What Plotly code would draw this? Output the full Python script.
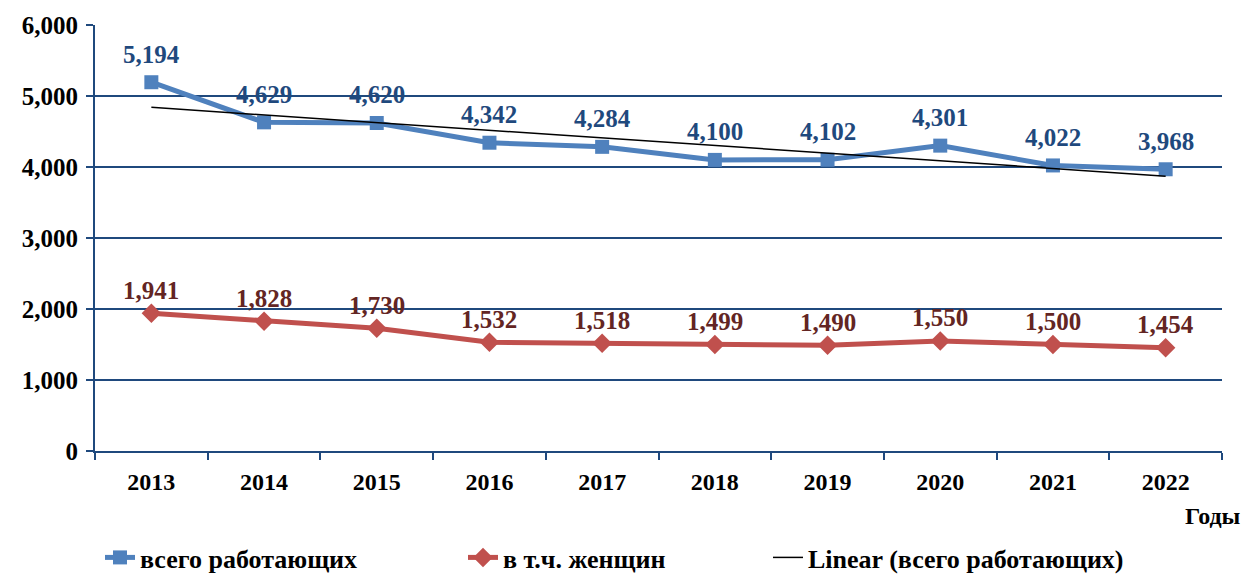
import numpy as np
import plotly.graph_objects as go

years = ["2013", "2014", "2015", "2016", "2017", "2018", "2019", "2020", "2021", "2022"]
all_workers = [5194, 4629, 4620, 4342, 4284, 4100, 4102, 4301, 4022, 3968]
women = [1941, 1828, 1730, 1532, 1518, 1499, 1490, 1550, 1500, 1454]
y_ticks = [0, 1000, 2000, 3000, 4000, 5000, 6000]

FONT = "Liberation Serif"
BLUE = "#4F81BD"
BLUE_LBL = "#1F497D"
RED = "#C0504D"
RED_LBL = "#632523"
GRID = "#1F497D"

# linear trend of all workers
xi = np.arange(len(years))
slope, intercept = np.polyfit(xi, all_workers, 1)
trend = (slope * xi + intercept).tolist()

fig = go.Figure()
fig.add_trace(go.Scatter(
    x=years, y=all_workers, name="всего работающих", mode="lines+markers",
    line=dict(color=BLUE, width=5), marker=dict(symbol="square", size=14, color=BLUE),
    legend="legend",
))
fig.add_trace(go.Scatter(
    x=years, y=women, name="в т.ч. женщин", mode="lines+markers",
    line=dict(color=RED, width=5), marker=dict(symbol="diamond", size=15, color=RED),
    legend="legend2",
))
fig.add_trace(go.Scatter(
    x=years, y=trend, name="Linear (всего работающих)", mode="lines",
    line=dict(color="black", width=1.5),
    legend="legend3",
))

for i, v in enumerate(all_workers):
    fig.add_annotation(x=i, y=v, text=f"<b>{v:,}</b>", showarrow=False, yshift=28,
                       font=dict(family=FONT, size=25, color=BLUE_LBL))
for i, v in enumerate(women):
    fig.add_annotation(x=i, y=v, text=f"<b>{v:,}</b>", showarrow=False, yshift=23,
                       font=dict(family=FONT, size=25, color=RED_LBL))

fig.add_annotation(xref="paper", yref="paper", x=0.992, y=-0.152, xanchor="center", yanchor="middle",
                   text="<b>Годы</b>", showarrow=False, font=dict(family=FONT, size=24, color="black"))

leg_font = dict(family=FONT, size=26, color="black", weight="bold")
def leg(px):
    return dict(orientation="h", x=(px - 95) / 1127, xanchor="left", y=-0.25, yanchor="middle",
                font=leg_font, bgcolor="rgba(0,0,0,0)", borderwidth=0)

fig.update_layout(
    width=1248, height=575,
    margin=dict(l=95, r=26, t=25, b=124, autoexpand=False),
    paper_bgcolor="white", plot_bgcolor="white",
    font=dict(family=FONT, color="black"),
    showlegend=True,
    legend=leg(100),
    legend2=leg(463),
    legend3=leg(768),
    xaxis=dict(type="category", range=[-0.5, 9.5], showgrid=False, showline=True,
               linecolor=GRID, linewidth=2, ticks="outside", tickson="boundaries",
               ticklen=7, tickwidth=2, tickcolor=GRID, automargin=False, ticklabelstandoff=8,
               tickfont=dict(family=FONT, size=24, color="black", weight="bold")),
    yaxis=dict(range=[0, 6000], tickvals=y_ticks, tickformat=",", showgrid=True,
               gridcolor=GRID, gridwidth=2, showline=True, linecolor=GRID, linewidth=2,
               ticks="outside", ticklen=7, tickwidth=2, tickcolor=GRID, zeroline=False,
               automargin=False, ticklabelstandoff=3,
               tickfont=dict(family=FONT, size=25, color="black", weight="bold")),
)

fig.write_html("out.html", post_script="document.body.style.margin='0';",
               config={"displayModeBar": False})
